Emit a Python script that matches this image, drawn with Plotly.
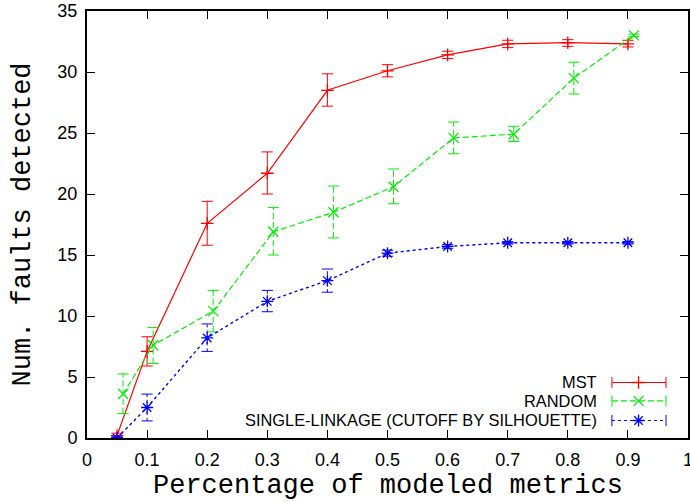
import plotly.graph_objects as go

# ---- data -------------------------------------------------------------
x_mst = [0.05, 0.1, 0.2, 0.3, 0.4, 0.5, 0.6, 0.7, 0.8, 0.9]
mst = [0.2, 7.1, 17.6, 21.7, 28.5, 30.1, 31.4, 32.3, 32.4, 32.3]
mst_lo = [0.0, 5.9, 15.8, 20.0, 27.2, 29.6, 31.1, 32.0, 32.1, 32.05]
mst_hi = [0.4, 8.3, 19.4, 23.45, 29.85, 30.6, 31.7, 32.6, 32.65, 32.6]

x_rand = [0.06, 0.11, 0.21, 0.31, 0.41, 0.51, 0.61, 0.71, 0.81, 0.91]
rand = [3.6, 7.6, 10.4, 16.9, 18.5, 20.6, 24.6, 24.9, 29.5, 33.0]
rand_lo = [2.0, 6.1, 8.7, 15.0, 16.4, 19.2, 23.3, 24.3, 28.2, 32.9]
rand_hi = [5.25, 9.05, 12.1, 18.9, 20.65, 22.05, 25.9, 25.55, 30.8, 33.1]

x_sl = [0.05, 0.1, 0.2, 0.3, 0.4, 0.5, 0.6, 0.7, 0.8, 0.9]
sl = [0.0, 2.5, 8.2, 11.2, 12.9, 15.15, 15.7, 16.0, 16.0, 16.0]
sl_lo = [0.0, 1.4, 7.1, 10.35, 11.95, 14.9, 15.55, 15.9, 15.9, 15.9]
sl_hi = [0.1, 3.6, 9.35, 12.1, 13.85, 15.4, 15.85, 16.1, 16.1, 16.1]

x_ticks = [0, 0.1, 0.2, 0.3, 0.4, 0.5, 0.6, 0.7, 0.8, 0.9, 1]
x_tick_labels = ["0", "0.1", "0.2", "0.3", "0.4", "0.5", "0.6", "0.7", "0.8", "0.9", "1"]
y_ticks = [0, 5, 10, 15, 20, 25, 30, 35]

series_names = ["MST", "RANDOM", "SINGLE-LINKAGE (CUTOFF BY SILHOUETTE)"]

RED, GREEN, BLUE = "#ff0000", "#00ee00", "#0000ff"
SANS = "Liberation Sans, Arial, sans-serif"
MONO = "Liberation Mono, Courier New, monospace"

fig = go.Figure()


def whiskers(xs, lo, hi):
    """Vertical error segments separated by gaps."""
    wx, wy = [], []
    for x, a, b in zip(xs, lo, hi):
        wx += [x, x, None]
        wy += [a, b, None]
    return wx, wy


def add_series(xs, ys, lo, hi, color, dash, symbol, msize, width):
    wx, wy = whiskers(xs, lo, hi)
    fig.add_trace(go.Scatter(x=wx, y=wy, mode="lines",
                             line=dict(color=color, width=1, dash=dash),
                             hoverinfo="skip", showlegend=False))
    fig.add_trace(go.Scatter(x=xs + xs, y=lo + hi, mode="markers",
                             marker=dict(symbol="line-ew-open", size=8, color=color,
                                         line=dict(color=color, width=1)),
                             hoverinfo="skip", showlegend=False))
    fig.add_trace(go.Scatter(x=xs, y=ys, mode="lines+markers",
                             line=dict(color=color, width=width, dash=dash),
                             marker=dict(symbol=symbol, size=msize, color=color,
                                         line=dict(color=color, width=1.3)),
                             showlegend=False))


add_series(x_mst, mst, mst_lo, mst_hi, RED, "solid", "cross-thin-open", 9, 1.2)
add_series(x_rand, rand, rand_lo, rand_hi, GREEN, "6px,3px", "x-thin-open", 10, 1.2)
add_series(x_sl, sl, sl_lo, sl_hi, BLUE, "3px,3px", "asterisk-open", 10, 1.4)

# ---- key (bottom right, samples drawn on an overlay 0..1 axis) --------
key_rows = [0.130, 0.087, 0.041]
key_line = [0.8734, 0.9634]
key_mark = 0.9177
key_text_x = 0.8525
styles = [(RED, "solid", "cross-thin-open", 9),
          (GREEN, "6px,3px", "x-thin-open", 10),
          (BLUE, "3px,3px", "asterisk-open", 10)]
for name, ky, (color, dash, symbol, msize) in zip(series_names, key_rows, styles):
    fig.add_trace(go.Scatter(x=key_line, y=[ky, ky], mode="lines+markers",
                             xaxis="x2", yaxis="y2",
                             line=dict(color=color, width=1.2, dash=dash),
                             marker=dict(symbol="line-ns-open", size=8, color=color,
                                         line=dict(color=color, width=1)),
                             hoverinfo="skip", showlegend=False))
    fig.add_trace(go.Scatter(x=[key_mark], y=[ky], mode="markers",
                             xaxis="x2", yaxis="y2",
                             marker=dict(symbol=symbol, size=msize, color=color,
                                         line=dict(color=color, width=1.3)),
                             hoverinfo="skip", showlegend=False))
    fig.add_annotation(x=key_text_x, y=ky, xref="x2", yref="y2", text=name,
                       showarrow=False, xanchor="right", yanchor="middle",
                       font=dict(family=SANS, size=16.4, color="black"))

# ---- axis titles ----
fig.add_annotation(x=0.5, y=0, xref="paper", yref="paper", yshift=-48,
                   text="Percentage of modeled metrics", showarrow=False,
                   xanchor="center", yanchor="middle",
                   font=dict(family=MONO, size=27, color="black"))
fig.add_annotation(x=0, y=0.5, xref="paper", yref="paper", xshift=-65,
                   text="Num. faults detected", showarrow=False, textangle=-90,
                   xanchor="center", yanchor="middle",
                   font=dict(family=MONO, size=27, color="black"))

axis_common = dict(showgrid=False, zeroline=False, showline=True,
                   linecolor="black", linewidth=2, mirror="allticks",
                   ticks="inside", ticklen=8, tickwidth=1.2, tickcolor="black",
                   ticklabeloverflow="allow", automargin=False,
                   tickfont=dict(family=SANS, size=18, color="black"))

fig.update_layout(
    width=690, height=502,
    margin=dict(l=87, r=2, t=11, b=64, autoexpand=False),
    paper_bgcolor="white", plot_bgcolor="white",
    showlegend=False,
    xaxis=dict(range=[0, 1], tickvals=x_ticks, ticktext=x_tick_labels,
               ticklabelstandoff=4, **axis_common),
    yaxis=dict(range=[0, 35], tickvals=y_ticks, ticklabelstandoff=4,
               **axis_common),
    xaxis2=dict(range=[0, 1], overlaying="x", visible=False),
    yaxis2=dict(range=[0, 1], overlaying="y", visible=False),
)

fig.write_html("out.html")
